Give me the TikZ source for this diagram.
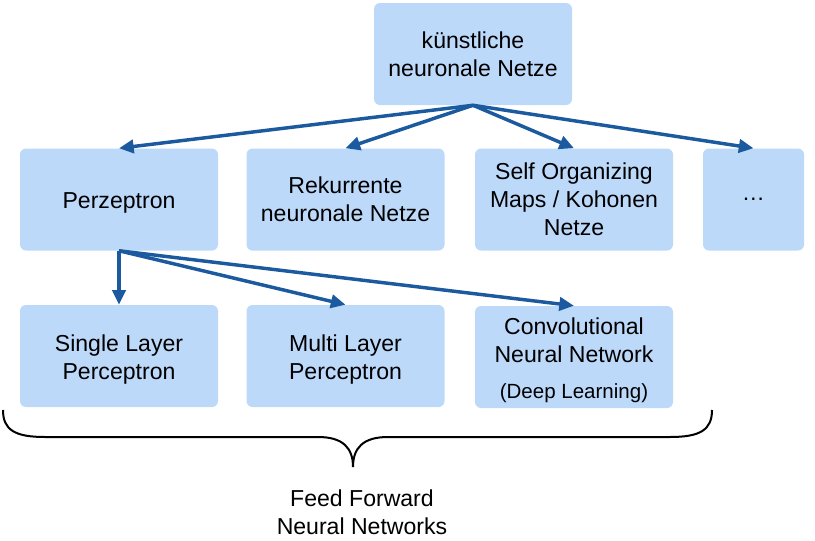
\documentclass[tikz,border=0pt]{standalone}
\usepackage{fontspec}
\setmainfont{Liberation Sans}
\usepackage{tikz}
\usetikzlibrary{arrows.meta,positioning}
\definecolor{boxblue}{RGB}{189,217,250}
\definecolor{arrowblue}{RGB}{28,90,160}
\newcommand{\topgap}{\rule{0pt}{17.5pt}}
\tikzset{
  box/.style={fill=boxblue, rounded corners=4.5pt, align=center, inner sep=2pt, minimum width=148.5pt, minimum height=76.5pt, font=\fontsize{17.3}{21}\selectfont},
  smallbox/.style={box, minimum width=75.75pt},
  arrow/.style={-{Triangle[length=11pt,width=10pt]}, line width=2.6pt, draw=arrowblue},
  bracelabel/.style={align=center, font=\fontsize{17.3}{21}\selectfont}
}

\begin{document}
\begin{tikzpicture}[x=0.75pt,y=-0.75pt]
\useasboundingbox (0,0) rectangle (815,540);
\node[box] (nn) at (473,54) {künstliche\\neuronale Netze};
\node[box] (perz) at (119,199.5) {\topgap Perzeptron};
\node[box] (rek) at (345.5,199.5) {Rekurrente\\neuronale Netze};
\node[box] (som) at (574,199.5) {Self Organizing\\Maps / Kohonen\\Netze};
\node[smallbox] (more) at (753.5,199.5) {\dots};
\node[box] (slp) at (119,356) {\topgap Single Layer\\Perceptron};
\node[box] (mlp) at (345.5,356) {\topgap Multi Layer\\Perceptron};
\node[box] (cnn) at (574,357) {\topgap Convolutional\\Neural Network\\[6pt]{\fontsize{15.4}{18}\selectfont(Deep Learning)}};
\draw[arrow] (nn.south) -- (perz.north);
\draw[arrow] (nn.south) -- (rek.north);
\draw[arrow] (nn.south) -- (som.north);
\draw[arrow] (nn.south) -- (more.north);
\draw[arrow] (perz.south) -- (slp.north);
\draw[arrow] (perz.south) -- (mlp.north);
\draw[arrow] (perz.south) -- (cnn.north);
% brace below the feed forward nets
\coordinate (tip) at (353,467);
\draw[line width=1.5pt] (3,410) .. controls (3,430) and (15,437) .. (45,437) -- (318,437)
  .. controls (343,437) and (353,448) .. (tip)
  .. controls (353,448) and (363,437) .. (388,437) -- (670,437)
  .. controls (700,437) and (712,430) .. (712,410);
\node[bracelabel] (ffn) at (362,512) {Feed Forward\\Neural Networks};
\end{tikzpicture}
\end{document}
